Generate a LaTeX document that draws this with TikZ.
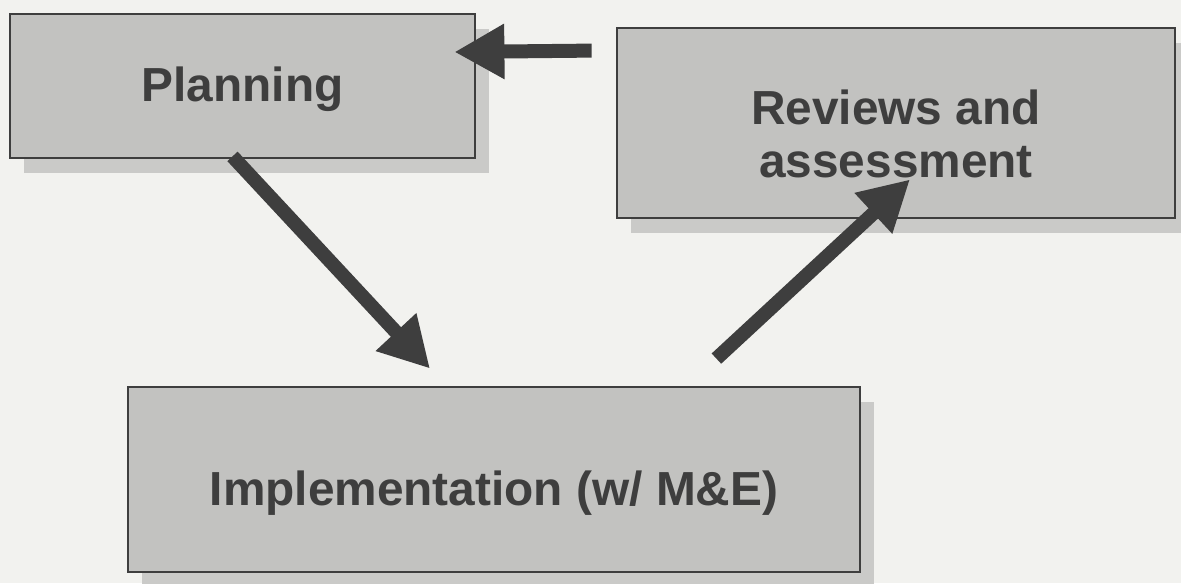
\documentclass[tikz,border=0pt]{standalone}
\usepackage{fontspec}
\setmainfont{Liberation Sans}
\usepackage{tikz}
\usetikzlibrary{arrows.meta, positioning, shadows, calc}
\definecolor{paperbg}{RGB}{242, 242, 239}
\definecolor{boxgray}{RGB}{194, 194, 192}
\definecolor{shadegray}{RGB}{202, 202, 200}
\definecolor{inkgray}{RGB}{62, 62, 62}
\newcommand{\dropby}[2]{\raisebox{-#1}[\height][\depth]{#2}}

\begin{document}
\begin{tikzpicture}[
          stagebox/.style={rectangle, draw=inkgray, line width=0.8pt, fill=boxgray, align=center, text=inkgray,
            font=\fontsize{13.6}{15.2}\selectfont\bfseries,
            drop shadow={shadow xshift=0.14cm, shadow yshift=-0.15cm, fill=shadegray, opacity=1}},
          bigarrow/.style={-{Triangle[length=0.5cm, width=0.52cm]}, line width=0.14cm, inkgray}
        ]
          % Canvas
          \fill[paperbg] (0,0) rectangle (11.81,-5.83);
          \useasboundingbox (0,0) rectangle (11.81,-5.83);

          % Stages
          \node[stagebox, minimum width=4.65cm, minimum height=1.44cm] (plan) at (2.425,-0.86) {\dropby{0.3mm}{Planning}};
          \node[stagebox, minimum width=5.58cm, minimum height=1.90cm] (rev) at (8.96,-1.23) {\dropby{1.1mm}{Reviews and}\\\dropby{1.1mm}{assessment}};
          \node[stagebox, minimum width=7.32cm, minimum height=1.85cm] (impl) at (4.94,-4.795) {\dropby{1.4mm}{Implementation (w/ M\&E)}};

          % Connections
          \draw[bigarrow] ([xshift=-2.4mm, yshift=-2.4mm]rev.north west) -- ([xshift=-2.2mm, yshift=3.4mm]plan.east);
          \draw[bigarrow] ([xshift=-1mm, yshift=0.3mm]plan.south) -- ([xshift=-6.4mm, yshift=1.7mm]impl.north);
          \draw[bigarrow] ([xshift=-14.5mm, yshift=2.7mm]impl.north east) -- ([xshift=1.4mm, yshift=4mm]rev.south);
        \end{tikzpicture}
\end{document}
